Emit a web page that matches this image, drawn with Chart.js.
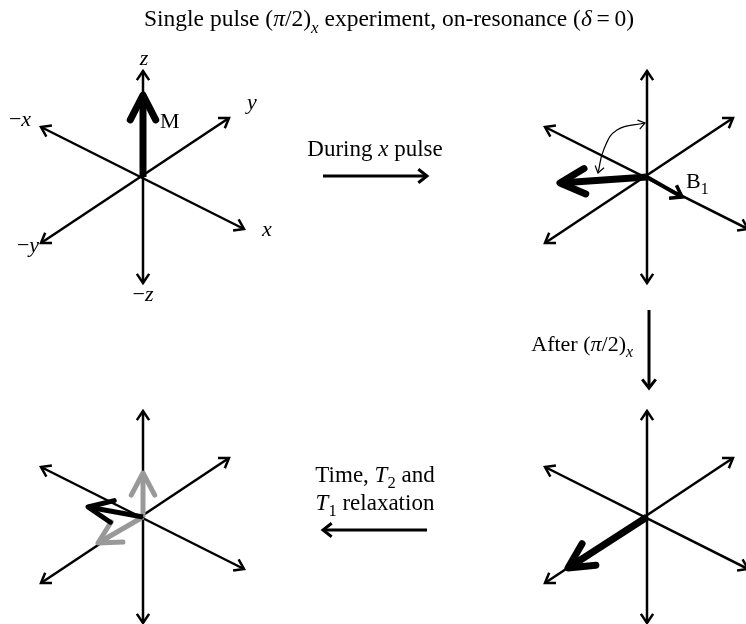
<!DOCTYPE html>
<html><head><meta charset="utf-8">
<script src="https://cdn.jsdelivr.net/npm/chart.js@4/dist/chart.umd.min.js"></script>
<style>html,body{margin:0;padding:0;background:#fff;overflow:hidden}canvas{display:block}</style>
</head><body>
<canvas id="c" width="746" height="624"></canvas>
<script>
// Origins of the four rotating-frame snapshots (diagram units)
const frameOrigins = [[143,177],[647,177],[647,517],[143,517]];
// Axis end points relative to an origin: [negative end, positive end]
const axisZ = [[0,106],[0,-106]];
const axisX = [[-102,-50],[101,52]];
const axisY = [[-102,66],[86,-59]];
// Magnetisation vector tip in each snapshot
const magnetisation = [[0,-82],[-87,6],[-79,51],[-55,-10]];
// RF field along +x during the pulse
const fieldB1 = [35,20];
// Relaxing components after the pulse: longitudinal recovery, remaining transverse part
const relaxComponents = [[0,-44],[-45,26]];
// Rotation sweep from +z toward the tipped vector
const sweepPath = [[645,123],[617,130],[604,149],[598,173]];
// Transition arrows between snapshots
const transitions = [[[323,176],[427,176]],[[649,310],[649,388]],[[427,530],[323,530]]];

const SERIF = '"Liberation Serif", "Times New Roman", serif';
const DEG = Math.PI/180;

function pt(o, d){ return {x:o[0]+d[0], y:o[1]+d[1]}; }

const topSets = [], axisSets = [];
// black magnetisation vectors
magnetisation.forEach((m,i)=>{
  const o = frameOrigins[i];
  const heavy = i!==3;
  topSets.push({data:[pt(o,[0,0]), pt(o,m)], borderColor:'#000', borderWidth: heavy?7:5,
    head:'end', headLen: heavy?28:27, headAng: heavy?27:24, headWidth: heavy?7:5, round:true});
});
topSets.push({data:[pt(frameOrigins[1],[0,0]), pt(frameOrigins[1],fieldB1)], borderColor:'#000', borderWidth:4,
  head:'end', headLen:13, headAng:35, headWidth:3.5, round:false});
relaxComponents.forEach(c=>{
  const o = frameOrigins[3];
  topSets.push({data:[pt(o,[0,0]), pt(o,c)], borderColor:'#999', borderWidth:5,
    head:'end', headLen:25, headAng:28, headWidth:5, round:true});
});
topSets.push({data:sweepPath.map(p=>({x:p[0],y:p[1]})), borderColor:'#000', borderWidth:1.2, tension:0.45,
  head:'both', headLen:8, headAng:35, headWidth:1.2, curved:true});
transitions.forEach(t=>{
  topSets.push({data:[{x:t[0][0],y:t[0][1]},{x:t[1][0],y:t[1][1]}], borderColor:'#000', borderWidth:3,
    head:'end', headLen:11, headAng:38, headWidth:3});
});
frameOrigins.forEach(o=>{
  [axisZ, axisX, axisY].forEach(ax=>{
    axisSets.push({data:[pt(o,ax[0]), pt(o,ax[1])], borderColor:'#000', borderWidth:2.5,
      head:'both', headLen:11, headAng:34, headWidth:2.5});
  });
});
const datasets = topSets.concat(axisSets).map(d=>Object.assign({showLine:true, pointRadius:0, fill:false,
  borderCapStyle:'butt', clip:false, tension:0}, d));

// Text labels: [segments, x, y(baseline), align, size]
const I = (t)=>({t, i:true});
const SUB = (t, i)=>({t, sub:true, i:!!i});
const texts = [
  [[{t:'Single pulse ('},I('π'),{t:'/2)'},SUB('x',true),{t:' experiment, on-resonance ('},I('δ'),{t:'\u2009=\u20090)'}], 389, 26, 'center', 23.5],
  [[{t:'−'},I('z')], 143, 301, 'center', 22],
  [[I('z')], 144, 65, 'center', 22],
  [[{t:'−'},I('x')], 20, 126, 'center', 22],
  [[I('y')], 252, 109, 'center', 22],
  [[{t:'M'}], 160, 128, 'left', 22],
  [[I('x')], 267, 236, 'center', 22],
  [[{t:'−'},I('y')], 28, 252, 'center', 22],
  [[{t:'B'},SUB('1')], 686, 188, 'left', 22],
  [[{t:'During '},I('x'),{t:' pulse'}], 375, 156, 'center', 23],
  [[{t:'After ('},I('π'),{t:'/2)'},SUB('x',true)], 633, 351, 'right', 22],
  [[{t:'Time, '},I('T'),SUB('2'),{t:' and'}], 375, 482, 'center', 23],
  [[I('T'),SUB('1'),{t:' relaxation'}], 375, 510, 'center', 23]
];

function fontFor(s, size){ return (s.i?'italic ':'') + (s.sub? size*0.72 : size) + 'px ' + SERIF; }
function drawRich(ctx, segs, x, y, align, size){
  let total = 0;
  const ws = segs.map(s=>{ ctx.font = fontFor(s,size); const w = ctx.measureText(s.t).width; total += w; return w; });
  let cx = align==='center' ? x - total/2 : align==='right' ? x - total : x;
  segs.forEach((s,k)=>{
    ctx.font = fontFor(s,size);
    ctx.fillText(s.t, cx, s.sub ? y + size*0.28 : y);
    cx += ws[k];
  });
}

function chevron(ctx, tip, from, len, ang, w, color, round){
  const a = Math.atan2(tip.y-from.y, tip.x-from.x);
  ctx.save();
  ctx.strokeStyle = color; ctx.lineWidth = w;
  ctx.lineCap = round ? 'round' : 'butt';
  ctx.lineJoin = round ? 'round' : 'miter';
  ctx.beginPath();
  ctx.moveTo(tip.x - len*Math.cos(a-ang), tip.y - len*Math.sin(a-ang));
  ctx.lineTo(tip.x, tip.y);
  ctx.lineTo(tip.x - len*Math.cos(a+ang), tip.y - len*Math.sin(a+ang));
  ctx.stroke();
  ctx.restore();
}

const arrowHeads = {
  id:'arrowHeads',
  beforeDraw(chart){
    const ctx = chart.ctx; ctx.save(); ctx.fillStyle='#fff'; ctx.fillRect(0,0,chart.width,chart.height); ctx.restore();
  },
  afterDatasetDraw(chart, args){
    const ds = chart.data.datasets[args.index];
    if(!ds.head) return;
    const p = args.meta.data, n = p.length, ctx = chart.ctx;
    if(ds.head==='end' || ds.head==='both'){
      const tip = p[n-1];
      const from = ds.curved ? {x:tip.cp1x, y:tip.cp1y} : p[n-2];
      chevron(ctx, tip, from, ds.headLen, ds.headAng*DEG, ds.headWidth, ds.borderColor, ds.round);
    }
    if(ds.head==='both'){
      const tip = p[0];
      const from = ds.curved ? {x:tip.cp2x, y:tip.cp2y} : p[1];
      chevron(ctx, tip, from, ds.headLen, ds.headAng*DEG, ds.headWidth, ds.borderColor, ds.round);
    }
  },
  afterDraw(chart){
    const ctx = chart.ctx, sx = chart.scales.x, sy = chart.scales.y;
    ctx.save(); ctx.fillStyle = '#000'; ctx.textBaseline = 'alphabetic'; ctx.textAlign = 'left';
    texts.forEach(t=>drawRich(ctx, t[0], sx.getPixelForValue(t[1]), sy.getPixelForValue(t[2]), t[3], t[4]));
    ctx.restore();
  }
};

new Chart(document.getElementById('c'), {
  type:'scatter',
  data:{datasets},
  options:{
    responsive:false, devicePixelRatio:1, animation:false,
    layout:{padding:0},
    scales:{
      x:{type:'linear', min:0, max:746, display:false},
      y:{type:'linear', min:0, max:624, reverse:true, display:false}
    },
    plugins:{legend:{display:false}, tooltip:{enabled:false}, title:{display:false}},
    events:[]
  },
  plugins:[arrowHeads]
});
</script>
</body></html>
